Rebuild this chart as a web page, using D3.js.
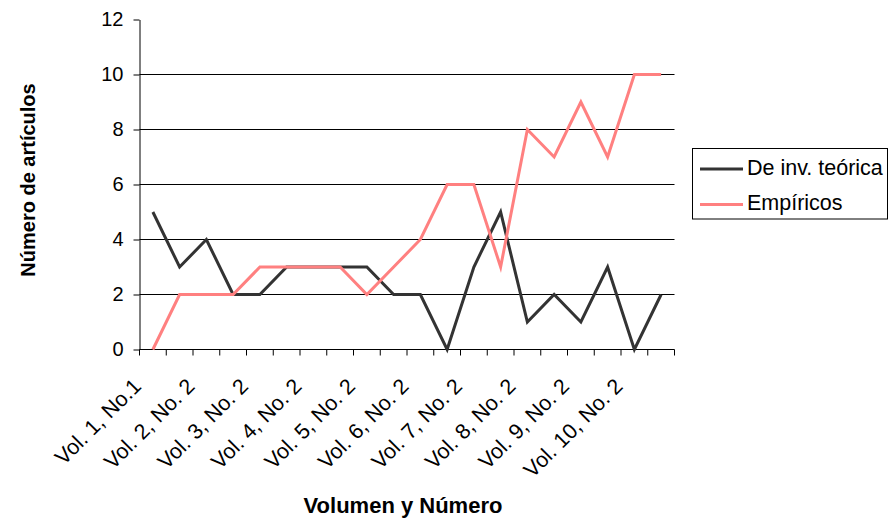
<!DOCTYPE html>
<html>
<head>
<meta charset="utf-8">
<script src="https://cdn.jsdelivr.net/npm/d3@7"></script>
<style>
  html, body { margin: 0; padding: 0; background: #fff; }
  svg { display: block; font-family: Arial, "Liberation Sans", sans-serif; }
</style>
</head>
<body>
<svg id="chart" width="888" height="518"></svg>
<script>
const categories = [
  "Vol. 1, No.1", "Vol. 2, No. 1", "Vol. 2, No. 2", "Vol. 3, No. 1", "Vol. 3, No. 2",
  "Vol. 4, No. 1", "Vol. 4, No. 2", "Vol. 5, No. 1", "Vol. 5, No. 2", "Vol. 6, No. 1",
  "Vol. 6, No. 2", "Vol. 7, No. 1", "Vol. 7, No. 2", "Vol. 8, No. 1", "Vol. 8, No. 2",
  "Vol. 9, No. 1", "Vol. 9, No. 2", "Vol. 10, No. 1", "Vol. 10, No. 2", "Vol. 11, No. 1"
];
const shownLabels = [
  "Vol. 1, No.1", "Vol. 2, No. 2", "Vol. 3, No. 2", "Vol. 4, No. 2", "Vol. 5, No. 2",
  "Vol. 6, No. 2", "Vol. 7, No. 2", "Vol. 8, No. 2", "Vol. 9, No. 2", "Vol. 10, No. 2"
];
const teorica   = [5, 3, 4, 2, 2, 3, 3, 3, 3, 2, 2, 0, 3, 5, 1, 2, 1, 3, 0, 2];
const empiricos = [0, 2, 2, 2, 3, 3, 3, 3, 2, 3, 4, 6, 6, 3, 8, 7, 9, 7, 10, 10];
const yTicks = [0, 2, 4, 6, 8, 10, 12];
const seriesNames = ["De inv. teórica", "Empíricos"];
const seriesColors = ["#333333", "#ff8080"];

const svg = d3.select("#chart");
const pLeft = 139.5, pRight = 674.5, pTop = 19.5, pBottom = 349.5;

const x = d3.scaleBand().domain(categories).range([pLeft, pRight]).padding(0);
const y = d3.scaleLinear().domain([0, 12]).range([pBottom, pTop]);

// gridlines
svg.append("g").selectAll("line").data(yTicks.filter(d => d > 0 && d < 12)).join("line")
  .attr("x1", pLeft).attr("x2", pRight)
  .attr("y1", d => y(d)).attr("y2", d => y(d))
  .attr("stroke", "#000").attr("stroke-width", 1);

// y axis
const yAxis = d3.axisLeft(y).tickValues(yTicks).tickSize(6).tickPadding(10).tickSizeOuter(0);
const gy = svg.append("g").attr("transform", `translate(${pLeft},0)`).call(yAxis);
gy.select(".domain").attr("stroke", "#000");
gy.selectAll(".tick line").attr("stroke", "#000");
gy.selectAll(".tick text").attr("font-size", 20).attr("fill", "#000")
  .attr("font-family", "Arial, 'Liberation Sans', sans-serif");

// x axis: ticks at category boundaries
const bounds = categories.map(c => x(c)).concat([pRight]);
const gx = svg.append("g");
gx.append("line").attr("x1", pLeft).attr("x2", pRight).attr("y1", pBottom).attr("y2", pBottom)
  .attr("stroke", "#000");
gx.selectAll("line.tk").data(bounds).join("line").attr("class", "tk")
  .attr("x1", d => d).attr("x2", d => d).attr("y1", pBottom).attr("y2", pBottom + 6)
  .attr("stroke", "#000");

const bw = x.bandwidth();
gx.selectAll("text").data(categories.filter((c, i) => i % 2 === 0)).join("text")
  .attr("transform", (d, i) => `translate(${x(d) + bw / 2 - 10.5},${387.5}) rotate(-45)`)
  .attr("text-anchor", "end")
  .attr("font-size", 21.5)
  .attr("fill", "#000")
  .text((d, i) => shownLabels[i]);

// lines
const line = d3.line().x((d, i) => x(categories[i]) + bw / 2).y(d => y(d));
[teorica, empiricos].forEach((s, k) => {
  svg.append("path").datum(s).attr("d", line)
    .attr("fill", "none").attr("stroke", seriesColors[k]).attr("stroke-width", 3)
    .attr("stroke-linejoin", "miter");
});

// axis titles
svg.append("text").attr("x", 403).attr("y", 513).attr("text-anchor", "middle")
  .attr("font-size", 22).attr("font-weight", "bold").text("Volumen y Número");
svg.append("text").attr("transform", "translate(35,180) rotate(-90)")
  .attr("text-anchor", "middle").attr("font-size", 20).attr("font-weight", "bold")
  .text("Número de artículos");

// legend
const lg = svg.append("g");
lg.append("rect").attr("x", 692.5).attr("y", 148.5).attr("width", 195).attr("height", 70.5)
  .attr("fill", "#fff").attr("stroke", "#000");
seriesNames.forEach((n, k) => {
  const yy = 169 + k * 35.5;
  lg.append("line").attr("x1", 700).attr("x2", 743).attr("y1", yy).attr("y2", yy)
    .attr("stroke", seriesColors[k]).attr("stroke-width", 3);
  lg.append("text").attr("x", 747).attr("y", 175 + k * 34.5).attr("font-size", 21.5)
    .attr("fill", "#000").text(n);
});
</script>
</body>
</html>
